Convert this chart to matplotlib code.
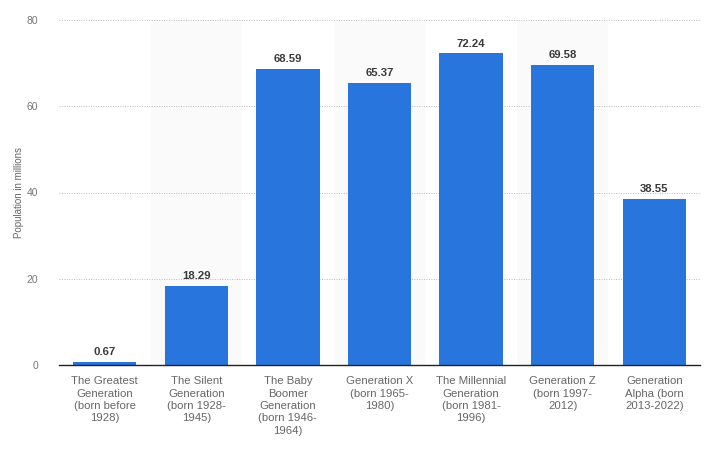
"""Population of the United States by generation."""

import matplotlib

matplotlib.use("Agg")
import matplotlib.pyplot as plt
import numpy as np

CATEGORIES = [
    "The Greatest\nGeneration\n(born before\n1928)",
    "The Silent\nGeneration\n(born 1928-\n1945)",
    "The Baby\nBoomer\nGeneration\n(born 1946-\n1964)",
    "Generation X\n(born 1965-\n1980)",
    "The Millennial\nGeneration\n(born 1981-\n1996)",
    "Generation Z\n(born 1997-\n2012)",
    "Generation\nAlpha (born\n2013-2022)",
]
POPULATION = [0.67, 18.29, 68.59, 65.37, 72.24, 69.58, 38.55]
Y_TICKS = [0, 20, 40, 60, 80]

BAR_COLOR = "#2876dd"
TEXT_COLOR = "#666666"

plt.rcParams["font.family"] = ["Liberation Sans", "DejaVu Sans"]

fig = plt.figure(figsize=(7.05, 4.5), dpi=100)
ax = fig.add_axes([59 / 705, 85 / 450, 641 / 705, 345 / 450])

x = np.arange(len(CATEGORIES))

# alternating shaded column bands
for i in x:
    if i % 2 == 1:
        ax.axvspan(i - 0.5, i + 0.5, color="#fafafa", zorder=0, lw=0)

bars = ax.bar(x, POPULATION, width=0.69, color=BAR_COLOR, zorder=3)

for xi, val in zip(x, POPULATION):
    ax.annotate(
        f"{val:.2f}",
        (xi, val),
        xytext=(0, 3.5),
        textcoords="offset points",
        ha="center",
        va="bottom",
        fontsize=8.2,
        fontweight="bold",
        color="#3a3a3a",
        zorder=4,
    )

ax.set_xlim(-0.5, len(CATEGORIES) - 0.5)
ax.set_ylim(0, 80)
ax.set_yticks(Y_TICKS)
ax.set_xticks(x)
ax.set_xticklabels(CATEGORIES, fontsize=8.2, color=TEXT_COLOR, linespacing=1.3)
ax.tick_params(axis="y", labelsize=7.5, colors="#777777", length=0, pad=15)
ax.tick_params(axis="x", length=0, pad=8)

ax.grid(axis="y", linestyle=(0, (1, 1.5)), color="#bbbbbb", linewidth=0.7, zorder=1)
ax.set_axisbelow(True)

for side in ["top", "right", "left"]:
    ax.spines[side].set_visible(False)
ax.spines["bottom"].set_color("#222222")
ax.spines["bottom"].set_linewidth(1.0)
ax.spines["bottom"].set_zorder(5)

fig.text(
    19 / 705,
    (450 - 192) / 450,
    "Population in millions",
    rotation=90,
    ha="center",
    va="center",
    fontsize=7,
    color=TEXT_COLOR,
)

fig.savefig("out.png", dpi=100)
